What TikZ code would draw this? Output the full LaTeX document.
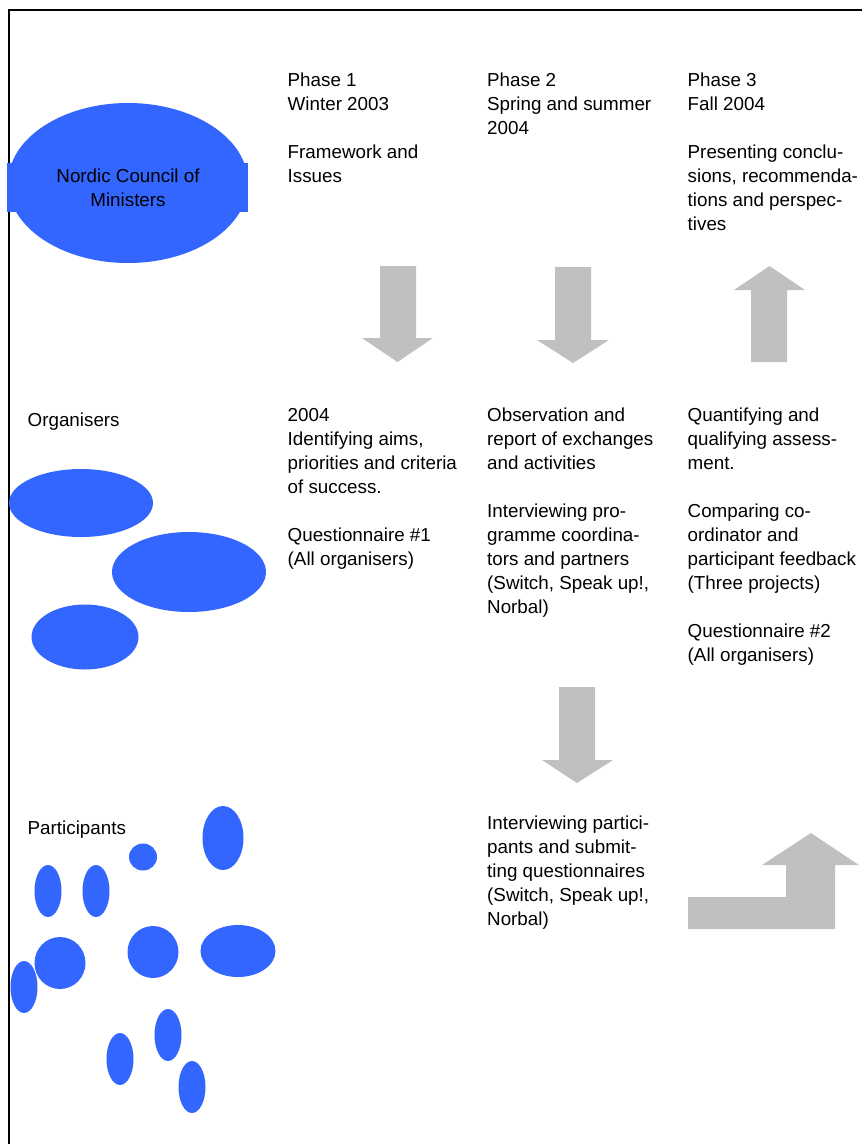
\documentclass[tikz,border=0pt]{standalone}
\usepackage{fontspec}
\setmainfont{Liberation Sans}
\usetikzlibrary{shapes.geometric}
\definecolor{blobblue}{RGB}{51,102,255}
\definecolor{arrowgray}{RGB}{192,192,192}
\tikzset{
  blob/.style={ellipse, fill=blobblue, draw=none, inner sep=0pt},
  txt/.style={anchor=north west, inner sep=0pt, align=left, font=\fontsize{18.8}{24}\selectfont},
  ctxt/.style={inner sep=0pt, align=center, font=\fontsize{18.8}{24}\selectfont},
  bigarrow/.style={fill=arrowgray, draw=none},
  frameline/.style={line width=2pt, draw=black}
}
\begin{document}
\begin{tikzpicture}[x=1pt,y=-1pt]
\useasboundingbox (0,0) rectangle (862,1144);
% frame
\draw[frameline] (9,1145) -- (9,10) -- (863,10);

% Nordic Council of Ministers
\fill[blobblue] (7,163) rectangle (248,212);
\node[blob, minimum width=240pt, minimum height=160pt] (ncm) at (128,183) {};
\node[ctxt, anchor=north] (ncmtext) at (128,165.5) {\strut Nordic Council of\\Ministers};

% Phase headers
\node[txt] (p1) at (287.5,69.7) {\strut Phase 1\\Winter 2003\\[24pt]Framework and\\Issues};
\node[txt] (p2) at (487,69.7) {\strut Phase 2\\Spring and summer\\2004};
\node[txt] (p3) at (687.5,69.7) {\strut Phase 3\\Fall 2004\\[24pt]Presenting conclu-\\sions, recommenda-\\tions and perspec-\\tives};

% arrows row 1
\fill[bigarrow] (380,266) -- (416,266) -- (416,338) -- (433,338) -- (397.5,362) -- (362,338) -- (380,338) -- cycle;
\fill[bigarrow] (555,267) -- (591,267) -- (591,340) -- (609,340) -- (573,363) -- (537,340) -- (555,340) -- cycle;
\fill[bigarrow] (769.5,266) -- (805,290) -- (787,290) -- (787,362) -- (751,362) -- (751,290) -- (734,290) -- cycle;

% Organisers row
\node[txt] (org) at (27.5,409.2) {\strut Organisers};
\node[txt] (c1) at (287.5,404.2) {\strut 2004\\Identifying aims,\\priorities and criteria\\of success.\\[24pt]Questionnaire \#1\\(All organisers)};
\node[txt] (c2) at (487,404.2) {\strut Observation and\\report of exchanges\\and activities\\[24pt]Interviewing pro-\\gramme coordina-\\tors and partners\\(Switch, Speak up!,\\Norbal)};
\node[txt] (c3) at (687.5,404.2) {\strut Quantifying and\\qualifying assess-\\ment.\\[24pt]Comparing co-\\ordinator and\\participant feedback\\(Three projects)\\[24pt]Questionnaire \#2\\(All organisers)};

\node[blob, minimum width=144pt, minimum height=68pt] (o1) at (81,503) {};
\node[blob, minimum width=154pt, minimum height=80pt] (o2) at (189,572) {};
\node[blob, minimum width=107pt, minimum height=65pt] (o3) at (85,637) {};

% middle arrow
\fill[bigarrow] (559,687) -- (595,687) -- (595,760) -- (613,760) -- (577,783) -- (542,760) -- (559,760) -- cycle;

% Participants row
\node[txt] (par) at (27.5,817.2) {\strut Participants};
\node[txt] (c4) at (487,812.2) {\strut Interviewing partici-\\pants and submit-\\ting questionnaires\\(Switch, Speak up!,\\Norbal)};

\node[blob, minimum width=41pt, minimum height=64pt] (q1) at (223,838) {};
\node[blob, minimum width=28pt, minimum height=27pt] (q2) at (143,857) {};
\node[blob, minimum width=27pt, minimum height=52pt] (q3) at (48,891) {};
\node[blob, minimum width=27pt, minimum height=52pt] (q4) at (96,891) {};
\node[blob, minimum width=51pt, minimum height=52pt] (q5) at (60,963) {};
\node[blob, minimum width=51pt, minimum height=52pt] (q6) at (153,952) {};
\node[blob, minimum width=75pt, minimum height=52pt] (q7) at (238,951) {};
\node[blob, minimum width=27pt, minimum height=52pt] (q8) at (24,987) {};
\node[blob, minimum width=27pt, minimum height=52pt] (q9) at (120,1059) {};
\node[blob, minimum width=27pt, minimum height=52pt] (q10) at (168,1035) {};
\node[blob, minimum width=27pt, minimum height=52pt] (q11) at (192,1087) {};

% bent arrow
\fill[bigarrow] (688,897) -- (786,897) -- (786,865) -- (762,865) -- (811,833) -- (859,865) -- (835,865) -- (835,929) -- (688,929) -- cycle;
\end{tikzpicture}
\end{document}
